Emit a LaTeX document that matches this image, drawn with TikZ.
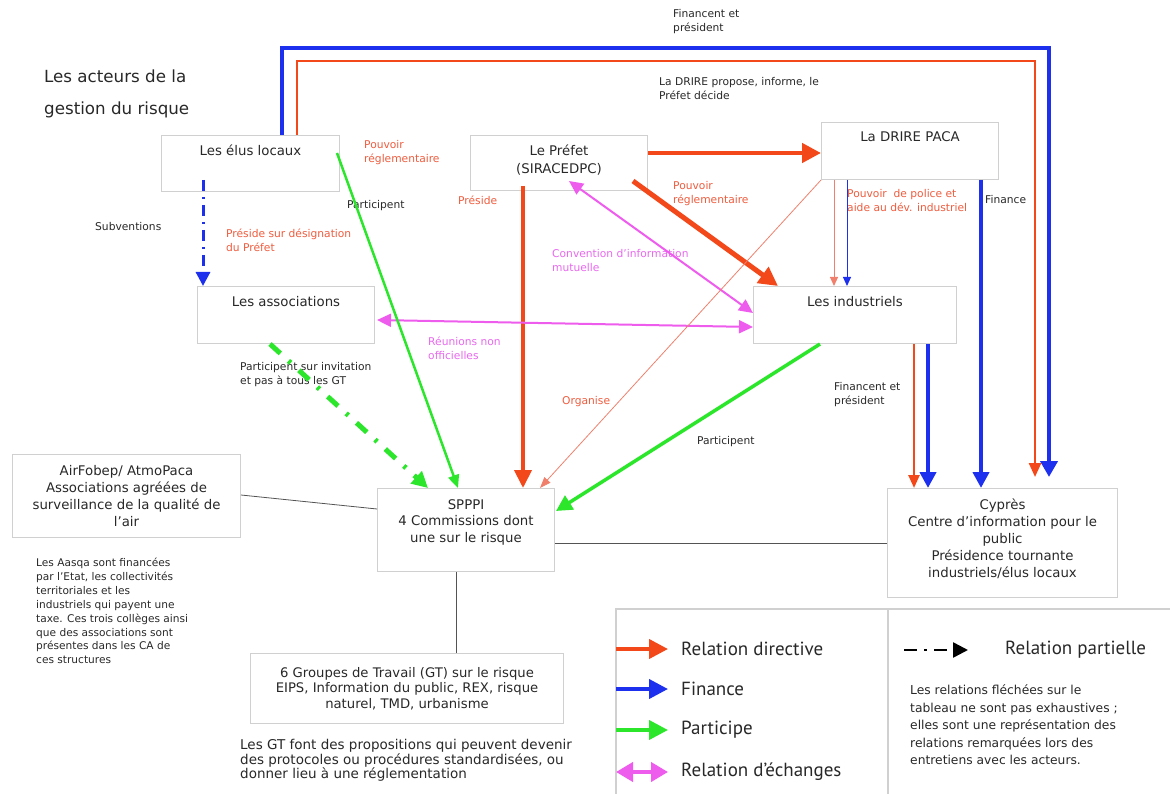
\documentclass[tikz,border=0pt]{standalone}
\usepackage{fontspec}
\setmainfont{DejaVu Sans}
\newfontfamily\legfont{PT Sans}
\usetikzlibrary{arrows.meta,calc}
\definecolor{dirred}{RGB}{242,72,26}
\definecolor{finblue}{RGB}{28,48,238}
\definecolor{pgreen}{RGB}{44,230,44}
\definecolor{expink}{RGB}{238,92,238}
\definecolor{thinred}{RGB}{240,128,108}
\definecolor{notered}{RGB}{238,92,62}
\definecolor{notepink}{RGB}{232,104,238}
\definecolor{boxgray}{RGB}{208,208,208}
\definecolor{txt}{RGB}{40,40,40}
\newcommand\legendarrow[4]{
  \coordinate (#4a) at ( 616, #1 );
  \coordinate (#4b) at ( 668, #1 );
  \draw[#2] (#4a) -- (#4b);
  \node[legtext] (#4) at ( 681, #1 ) {#3};
}
\begin{document}
\begin{tikzpicture}[x=1pt,y=-1pt,
    actor/.style={draw=boxgray, line width=1pt, anchor=north west, inner sep=0pt},
    actortext/.style={anchor=north, align=center, inner sep=0pt, text=txt, font=\fontsize{13.3}{17}\selectfont},
    note/.style={anchor=west, align=left, inner sep=0pt, text=txt, font=\fontsize{10.7}{14}\selectfont},
    rednote/.style={note, text=notered},
    pinknote/.style={note, text=notepink},
    legtext/.style={anchor=west, inner sep=0pt, text=txt, font=\legfont\fontsize{19}{22}\selectfont},
    legframe/.style={draw=boxgray, line width=1.5pt},
    link/.style={draw=txt!80, line width=0.8pt},
    bighead/.style={-{Triangle[length=19pt,width=19pt]}},
    midhead/.style={-{Triangle[length=16pt,width=16pt]}},
    smallhead/.style={-{Triangle[length=13pt,width=11pt]}},
    tinyhead/.style={-{Triangle[length=9pt,width=8pt]}},
    directive/.style={draw=dirred},
    finance/.style={draw=finblue},
    participe/.style={draw=pgreen},
    echange/.style={draw=expink, line width=2pt, {Triangle[length=14pt,width=13pt]}-{Triangle[length=14pt,width=13pt]}},
    legexchange/.style={draw=expink, line width=4pt, {Triangle[length=17pt,width=19pt]}-{Triangle[length=17pt,width=19pt]}},
  ]
  \useasboundingbox (0,0) rectangle (1170,794);

  % acteurs
  \node[actor, minimum width=178, minimum height=56] (elus) at (161,135) {};
  \node[actortext] (elust) at ($(elus.north)+(0,10)$) {Les élus locaux};
  \node[actor, minimum width=177, minimum height=55] (prefet) at (470,135) {};
  \node[actortext, font=\fontsize{13.3}{18}\selectfont] (prefett) at ($(prefet.north)+(0,10)$) {Le Préfet\\(SIRACEDPC)};
  \node[actor, minimum width=177, minimum height=57] (drire) at (821,122) {};
  \node[actortext] (driret) at ($(drire.north)+(0,9)$) {La DRIRE PACA};
  \node[actor, minimum width=177, minimum height=57] (assoc) at (197,286) {};
  \node[actortext] (assoct) at ($(assoc.north)+(0,10)$) {Les associations};
  \node[actor, minimum width=203, minimum height=57] (indus) at (753,286) {};
  \node[actortext] (indust) at ($(indus.north)+(0,10)$) {Les industriels};
  \node[actor, minimum width=228, minimum height=83] (airf) at (12,454) {};
  \node[actortext] (airft) at ($(airf.north)+(0,11)$) {AirFobep/ AtmoPaca\\Associations agréées de\\surveillance de la qualité de\\l’air};
  \node[actor, minimum width=177, minimum height=83] (spppi) at (377,488) {};
  \node[actortext, font=\fontsize{13.3}{16.5}\selectfont] (spppit) at ($(spppi.north)+(0,11)$) {SPPPI\\4 Commissions dont\\une sur le risque};
  \node[actor, minimum width=230, minimum height=109] (cypres) at (887,488) {};
  \node[actortext] (cyprest) at ($(cypres.north)+(0,11)$) {Cyprès\\Centre d’information pour le\\public\\Présidence tournante\\industriels/élus locaux};
  \node[actor, minimum width=313, minimum height=70] (gt) at (250,653) {};
  \node[actortext, font=\fontsize{13.2}{15.5}\selectfont] (gtt) at ($(gt.north)+(0,14)$) {6 Groupes de Travail (GT) sur le risque\\EIPS, Information du public, REX, risque\\naturel, TMD, urbanisme};

  % textes libres
  \node[note, font=\fontsize{16.7}{32}\selectfont] (titre) at (44,94) {Les acteurs de la\\gestion du risque};
  \node[note] (fin1) at (673,22) {Financent et\\président};
  \node[note] (drireprop) at (659,89) {La DRIRE propose, informe, le\\Préfet décide};
  \node[rednote] (pouv1) at (364,153) {Pouvoir\\réglementaire};
  \node[rednote] (preside) at (458,200) {Préside};
  \node[rednote] (pouv2) at (673,194) {Pouvoir\\réglementaire};
  \node[note] (part1) at (347,206) {Participent};
  \node[note] (subv) at (95,227) {Subventions};
  \node[rednote] (presdes) at (226,240) {Préside sur désignation\\du Préfet};
  \node[pinknote] (conv) at (552,261) {Convention d’information\\mutuelle};
  \node[rednote] (police) at (847,201) {Pouvoir\ \ de police et\\aide au dév. industriel};
  \node[note] (financet) at (985,200) {Finance};
  \node[pinknote] (reunions) at (428,348) {Réunions non\\officielles};
  \node[note] (partinv) at (240,375) {Participent sur invitation\\et pas à tous les GT};
  \node[note] (fin2) at (834,395) {Financent et\\président};
  \node[rednote] (organise) at (562,402) {Organise};
  \node[note] (part2) at (697,442) {Participent};
  \node[note, font=\fontsize{10.6}{13.9}\selectfont] (aasqa) at (36,611) {Les Aasqa sont financées\\par l’Etat, les collectivités\\territoriales et les\\industriels qui payent une\\taxe. Ces trois collèges ainsi\\que des associations sont\\présentes dans les CA de\\ces structures};
  \node[note, font=\fontsize{13.5}{14.5}\selectfont] (gtnote) at (240,760.5) {Les GT font des propositions qui peuvent devenir\\des protocoles ou procédures standardisées, ou\\donner lieu à une réglementation};

  % relations
  \coordinate (fincorner) at (1049,48);
  \coordinate (dircorner) at (1035,61);
  \draw[finance, line width=4.5pt, -{Triangle[length=16pt,width=17pt]}] ($(elus.north west)+(121,0)$) |- (fincorner) -- ($(cypres.north west)+(162,-11)$);
  \draw[directive, line width=2.5pt, -{Triangle[length=14pt,width=12pt]}] ($(elus.north west)+(136,0)$) |- (dircorner) -- ($(cypres.north west)+(148,-11)$);

  \draw[directive, line width=4.5pt, bighead] ($(prefet.north east)+(0,18)$) -- ($(drire.north west)+(0,31)$);
  \draw[directive, line width=5pt, bighead] ($(prefet.north west)+(163,46)$) -- ($(indus.north west)+(25,0)$);
  \draw[directive, line width=4pt, -{Triangle[length=18pt,width=17pt]}] ($(prefet.north west)+(53,51)$) -- ($(spppi.north west)+(146,0)$);
  \draw[echange] ($(prefet.north west)+(99,46)$) -- ($(indus.north west)+(0,27)$);
  \draw[echange] ($(assoc.north east)+(2,34)$) -- ($(indus.north west)+(0,41)$);

  \draw[participe, line width=2.5pt, smallhead] ($(elus.north west)+(176,18)$) -- ($(spppi.north west)+(81,0)$);
  \draw[finance, line width=3pt, dash pattern=on 11pt off 6pt on 2pt off 6pt, -{Triangle[length=14pt,width=14pt]}] ($(elus.north west)+(42,45)$) -- ($(assoc.north west)+(6,0)$);

  \draw[draw=thinred, line width=1pt, tinyhead] ($(drire.south west)+(13,0)$) -- ($(indus.north west)+(81,0)$);
  \draw[finance, line width=1pt, tinyhead] ($(drire.south west)+(26,0)$) -- ($(indus.north west)+(94,0)$);
  \draw[finance, line width=4pt, midhead] ($(drire.south west)+(160,0)$) -- ($(cypres.north west)+(94,0)$);
  \draw[draw=thinred, line width=0.8pt, -{Triangle[length=11pt,width=8pt]}] (drire.south west) -- ($(spppi.north west)+(163,0)$);

  \draw[directive, line width=2.5pt, -{Triangle[length=13pt,width=11pt]}] ($(indus.south west)+(161,0)$) -- ($(cypres.north west)+(27,0)$);
  \draw[finance, line width=4.5pt, midhead] ($(indus.south west)+(175,0)$) -- ($(cypres.north west)+(41,0)$);
  \draw[participe, line width=3.5pt, midhead] ($(indus.south west)+(67,0)$) -- ($(spppi.north east)+(1,23)$);
  \draw[participe, line width=5pt, dash pattern=on 14pt off 11pt on 3pt off 11pt, -{Triangle[length=16pt,width=16pt]}] ($(assoc.south west)+(73,0)$) -- ($(spppi.north west)+(51,0)$);

  \draw[link] ($(airf.north east)+(0,41)$) -- ($(spppi.north west)+(0,21)$);
  \draw[link] ($(spppi.north east)+(0,55)$) -- ($(cypres.north west)+(0,55)$);
  \draw[link] ($(spppi.south west)+(79,0)$) -- ($(gt.north west)+(206,0)$);

  % legende
  \draw[legframe] (1170,609) -| (616,794);
  \draw[legframe] (888,609) -- (888,794);
  \legendarrow{649}{directive, line width=4pt, bighead}{Relation directive}{legdir}
  \legendarrow{689}{finance, line width=4pt, bighead}{Finance}{legfin}
  \legendarrow{730}{participe, line width=4pt, bighead}{Participe}{legpart}
  \legendarrow{772}{legexchange}{Relation d’échanges}{legech}
  \coordinate (partA) at (904,650);
  \coordinate (partB) at (968,650);
  \draw[draw=black, line width=2.5pt, dash pattern=on 13pt off 7pt on 3pt off 7pt, -{Triangle[length=15pt,width=15pt]}] (partA) -- (partB);
  \node[legtext] (legpartielle) at (1005,650) {Relation partielle};
  \node[note, font=\fontsize{12.3}{17.5}\selectfont] (legnote) at (910,725) {Les relations fléchées sur le\\tableau ne sont pas exhaustives ;\\elles sont une représentation des\\relations remarquées lors des\\entretiens avec les acteurs.};
\end{tikzpicture}
\end{document}
